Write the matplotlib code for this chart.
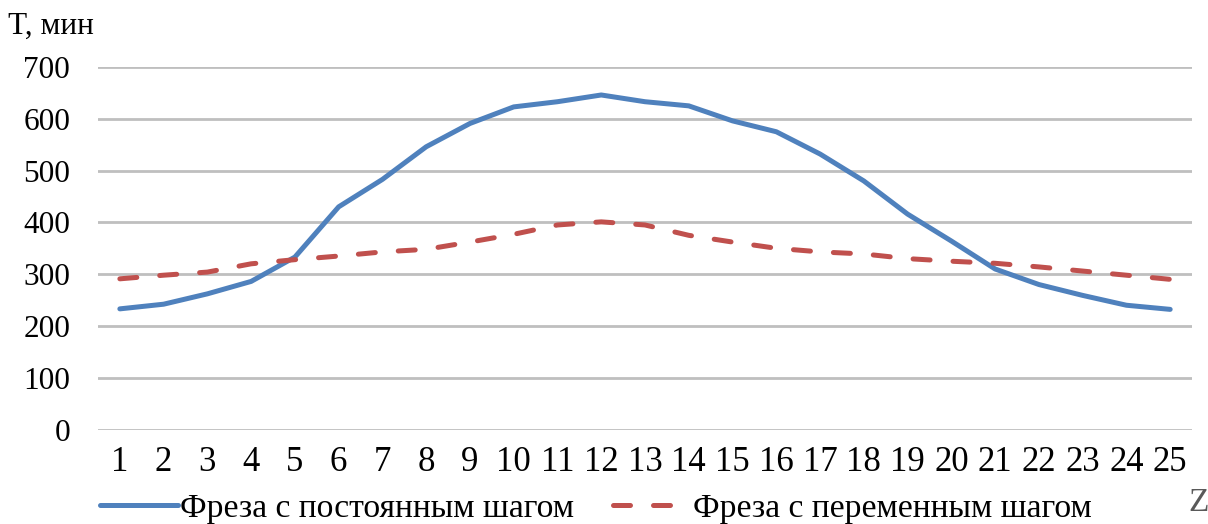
import matplotlib.pyplot as plt

# время обработки для каждой позиции Z
z = list(range(1, 26))
t_const = [233, 242, 262, 286, 333, 430, 483, 546, 591, 623, 633, 646,
           633, 625, 596, 575, 532, 480, 416, 364, 310, 280, 259, 240, 232]
t_var = [291, 298, 304, 320, 328, 335, 343, 348, 362, 377, 395, 401,
         395, 375, 362, 350, 343, 339, 330, 325, 321, 314, 306, 298, 290]
y_ticks = [0, 100, 200, 300, 400, 500, 600, 700]

plt.rcParams['font.family'] = ['Liberation Serif', 'DejaVu Serif']

fig = plt.figure(figsize=(12.08, 5.24), dpi=100)
ax = fig.add_axes([0.0811, 0.1803, 0.9057, 0.6918])

l1, = ax.plot(z, t_const, color='#4F81BD', lw=3.6, solid_joinstyle='round',
              solid_capstyle='round', label='Фреза с постоянным шагом')
l2, = ax.plot(z, t_var, color='#C0504D', lw=3.6, dashes=(3.4, 4.6),
              dash_capstyle='round', label='Фреза с переменным шагом')

ax.set_xlim(0.5, 25.5)
ax.set_ylim(0, 700)
ax.set_yticks(y_ticks)
ax.set_xticks(z)
ax.set_xticklabels([str(v) for v in z], fontsize=25)
ax.tick_params(axis='y', labelsize=22.5, length=0, pad=20)
ax.tick_params(axis='x', length=0, pad=12)
ax.grid(axis='y', color='#BFBFBF', lw=2)
ax.set_axisbelow(True)
for s in ax.spines.values():
    s.set_visible(False)

fig.text(0.007, 0.935, 'T, мин', fontsize=22.5, ha='left', va='baseline')
fig.text(0.984, 0.04, 'Z', fontsize=24, color='#595959', ha='left', va='center')

fig.legend(handles=[l1, l2], loc='center left', bbox_to_anchor=(0.083, 0.03),
           ncol=2, frameon=False, fontsize=24.2, handlelength=2.3,
           handletextpad=0.08, columnspacing=1.15, borderpad=0, borderaxespad=0)

fig.savefig('out.png', dpi=100)
